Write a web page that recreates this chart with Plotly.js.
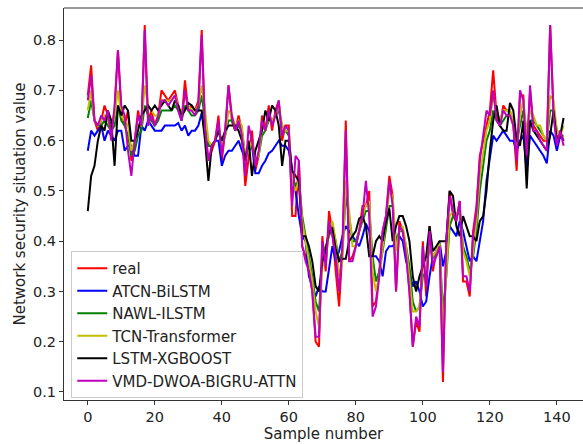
<!DOCTYPE html>
<html><head><meta charset="utf-8">
<script src="https://cdn.plot.ly/plotly-3.0.1.min.js"></script>
<style>html,body{margin:0;padding:0;background:#fff}#chart{width:583px;height:444px}</style>
</head><body><div id="chart"></div>
<script>
const seriesNames = ["real","ATCN-BiLSTM","NAWL-ILSTM","TCN-Transformer","LSTM-XGBOOST","VMD-DWOA-BIGRU-ATTN"];
const seriesColors = ["#ff0000","#0000ff","#008000","#bfbf00","#000000","#bf00bf"];

const real = [0.69,0.75,0.64,0.62,0.64,0.67,0.65,0.62,0.66,0.78,0.66,0.63,0.66,0.56,0.60,0.66,0.62,0.83,0.64,0.66,
0.63,0.65,0.70,0.69,0.68,0.69,0.70,0.67,0.64,0.72,0.66,0.67,0.66,0.68,0.82,0.63,0.56,0.58,0.60,0.65,
0.56,0.62,0.71,0.64,0.62,0.65,0.62,0.51,0.57,0.62,0.54,0.57,0.65,0.62,0.67,0.62,0.66,0.68,0.60,0.63,
0.63,0.45,0.45,0.56,0.39,0.37,0.34,0.30,0.20,0.19,0.41,0.34,0.46,0.42,0.34,0.27,0.38,0.64,0.36,0.37,
0.39,0.42,0.47,0.47,0.50,0.27,0.28,0.34,0.42,0.45,0.53,0.49,0.30,0.44,0.42,0.38,0.30,0.19,0.24,0.22,
0.40,0.29,0.43,0.34,0.38,0.40,0.12,0.40,0.50,0.45,0.44,0.48,0.32,0.32,0.29,0.42,0.47,0.57,0.60,0.63,
0.66,0.74,0.65,0.63,0.67,0.66,0.66,0.63,0.54,0.69,0.69,0.56,0.70,0.63,0.62,0.61,0.60,0.60,0.83,0.66,
0.60,0.62,0.60];

const atcn = [0.58,0.62,0.61,0.62,0.63,0.60,0.62,0.61,0.60,0.62,0.62,0.58,0.59,0.59,0.57,0.57,0.63,0.62,0.64,0.63,
0.62,0.62,0.62,0.63,0.63,0.63,0.63,0.635,0.62,0.63,0.61,0.62,0.62,0.63,0.655,0.61,0.59,0.59,0.60,0.60,
0.55,0.57,0.58,0.58,0.59,0.60,0.58,0.565,0.58,0.59,0.535,0.535,0.55,0.56,0.575,0.58,0.59,0.60,0.59,0.59,
0.58,0.54,0.50,0.45,0.41,0.40,0.33,0.31,0.29,0.31,0.30,0.30,0.35,0.39,0.36,0.38,0.41,0.43,0.42,0.41,
0.40,0.39,0.41,0.435,0.42,0.37,0.37,0.36,0.33,0.38,0.39,0.39,0.40,0.41,0.40,0.36,0.34,0.31,0.32,0.30,
0.27,0.28,0.33,0.37,0.38,0.40,0.35,0.38,0.43,0.42,0.41,0.44,0.42,0.39,0.36,0.37,0.36,0.40,0.44,0.52,
0.57,0.61,0.60,0.61,0.62,0.61,0.60,0.60,0.58,0.60,0.61,0.54,0.61,0.60,0.59,0.58,0.57,0.555,0.62,0.61,
0.58,0.61,0.60];

const nawl = [0.645,0.68,0.64,0.63,0.63,0.64,0.63,0.62,0.63,0.67,0.64,0.63,0.61,0.57,0.58,0.61,0.62,0.67,0.65,0.64,
0.63,0.64,0.66,0.66,0.66,0.66,0.67,0.66,0.64,0.67,0.66,0.65,0.65,0.66,0.69,0.64,0.59,0.59,0.60,0.62,
0.59,0.61,0.64,0.64,0.62,0.63,0.62,0.57,0.58,0.59,0.56,0.57,0.61,0.62,0.64,0.64,0.65,0.66,0.63,0.62,
0.61,0.53,0.51,0.52,0.45,0.41,0.37,0.33,0.28,0.26,0.36,0.39,0.41,0.43,0.40,0.36,0.38,0.49,0.45,0.40,
0.40,0.42,0.44,0.46,0.46,0.37,0.32,0.34,0.38,0.43,0.47,0.47,0.40,0.42,0.42,0.39,0.35,0.28,0.26,0.27,
0.33,0.34,0.39,0.37,0.37,0.39,0.26,0.33,0.43,0.45,0.45,0.46,0.39,0.37,0.34,0.37,0.42,0.50,0.55,0.60,
0.62,0.66,0.64,0.63,0.64,0.65,0.65,0.64,0.60,0.63,0.66,0.62,0.64,0.64,0.63,0.62,0.61,0.60,0.66,0.66,
0.62,0.61,0.61];

const tcn = [0.66,0.70,0.64,0.63,0.64,0.65,0.64,0.62,0.65,0.70,0.65,0.64,0.63,0.58,0.60,0.63,0.63,0.71,0.67,0.66,
0.65,0.65,0.68,0.68,0.68,0.68,0.69,0.67,0.65,0.69,0.67,0.66,0.66,0.67,0.71,0.66,0.60,0.59,0.60,0.63,
0.59,0.61,0.66,0.65,0.63,0.64,0.63,0.56,0.58,0.60,0.56,0.57,0.63,0.62,0.65,0.64,0.65,0.67,0.63,0.62,
0.62,0.52,0.50,0.52,0.44,0.40,0.36,0.32,0.26,0.23,0.35,0.36,0.42,0.44,0.40,0.33,0.36,0.52,0.46,0.39,
0.39,0.42,0.45,0.47,0.48,0.34,0.30,0.33,0.39,0.44,0.50,0.49,0.38,0.42,0.43,0.39,0.33,0.26,0.26,0.27,
0.35,0.34,0.40,0.37,0.38,0.40,0.22,0.34,0.45,0.46,0.45,0.47,0.38,0.36,0.33,0.38,0.44,0.53,0.58,0.62,
0.64,0.69,0.66,0.64,0.66,0.66,0.66,0.64,0.59,0.65,0.68,0.61,0.66,0.65,0.63,0.63,0.61,0.60,0.69,0.68,
0.62,0.61,0.63];

const lstmxgb = [0.46,0.53,0.55,0.60,0.63,0.62,0.66,0.64,0.55,0.67,0.65,0.67,0.66,0.60,0.60,0.62,0.65,0.66,0.67,0.66,
0.67,0.66,0.67,0.68,0.67,0.66,0.68,0.67,0.65,0.66,0.675,0.67,0.66,0.66,0.66,0.60,0.52,0.59,0.60,0.62,
0.60,0.62,0.63,0.63,0.63,0.62,0.60,0.56,0.60,0.53,0.58,0.60,0.62,0.66,0.64,0.67,0.66,0.63,0.55,0.60,
0.60,0.54,0.53,0.52,0.41,0.41,0.39,0.36,0.31,0.30,0.36,0.38,0.42,0.425,0.385,0.36,0.365,0.365,0.40,0.41,
0.42,0.445,0.45,0.43,0.37,0.37,0.40,0.41,0.40,0.44,0.465,0.40,0.43,0.45,0.45,0.43,0.40,0.33,0.30,0.33,
0.35,0.37,0.43,0.38,0.39,0.40,0.40,0.40,0.50,0.49,0.43,0.41,0.45,0.43,0.41,0.41,0.40,0.44,0.45,0.50,
0.58,0.64,0.67,0.63,0.62,0.62,0.675,0.66,0.60,0.59,0.64,0.505,0.64,0.62,0.61,0.60,0.59,0.58,0.61,0.66,
0.60,0.61,0.645];

const vmd = [0.68,0.73,0.64,0.63,0.65,0.64,0.66,0.60,0.67,0.78,0.67,0.65,0.58,0.53,0.60,0.65,0.63,0.82,0.63,0.65,
0.63,0.65,0.68,0.68,0.67,0.68,0.69,0.66,0.64,0.70,0.66,0.66,0.65,0.67,0.81,0.62,0.56,0.59,0.60,0.64,
0.57,0.62,0.71,0.65,0.62,0.64,0.61,0.53,0.63,0.60,0.55,0.58,0.64,0.62,0.66,0.63,0.65,0.68,0.61,0.63,
0.62,0.47,0.57,0.56,0.39,0.36,0.34,0.30,0.21,0.21,0.40,0.35,0.44,0.41,0.37,0.30,0.39,0.62,0.36,0.36,
0.39,0.42,0.45,0.52,0.45,0.25,0.27,0.33,0.42,0.45,0.52,0.47,0.30,0.43,0.42,0.37,0.30,0.19,0.25,0.23,
0.39,0.31,0.42,0.35,0.37,0.39,0.14,0.40,0.49,0.46,0.44,0.48,0.33,0.33,0.30,0.41,0.46,0.56,0.61,0.66,
0.65,0.70,0.64,0.63,0.66,0.65,0.65,0.63,0.56,0.70,0.68,0.57,0.71,0.62,0.62,0.60,0.59,0.58,0.83,0.65,
0.59,0.62,0.59];

const allSeries = [real, atcn, nawl, tcn, lstmxgb, vmd];
const xTickVals = [0,20,40,60,80,100,120,140];
const yTickVals = [0.1,0.2,0.3,0.4,0.5,0.6,0.7,0.8];

const traces = allSeries.map((ys, k) => ({
  type: 'scatter', mode: 'lines',
  x: ys.map((_, i) => i), y: ys,
  name: seriesNames[k], legendgroup: 'g' + k,
  line: {color: seriesColors[k], width: 2}
}));

const tickFont = {family: 'DejaVu Sans, sans-serif', size: 14.5, color: '#222'};
const titleFont = {family: 'DejaVu Sans, sans-serif', size: 15, color: '#222'};
const layout = {
  width: 583, height: 444,
  margin: {l: 64, r: 0, t: 8, b: 44},
  paper_bgcolor: '#fff', plot_bgcolor: '#fff',
  showlegend: true,
  font: tickFont,
  xaxis: {
    range: [-7.1, 147.8], tickvals: xTickVals, ticktext: xTickVals.map(String),
    showgrid: false, zeroline: false, showline: true, linecolor: '#333', linewidth: 1,
    ticks: 'outside', ticklen: 4, tickcolor: '#333', tickfont: tickFont,
    title: {text: 'Sample number', font: titleFont, standoff: 2}
  },
  yaxis: {
    range: [0.084, 0.864], tickvals: yTickVals, ticktext: yTickVals.map(v => v.toFixed(1)),
    showgrid: false, zeroline: false, showline: true, linecolor: '#333', linewidth: 1,
    ticks: 'outside', ticklen: 4, tickcolor: '#333', tickfont: tickFont,
    title: {text: 'Network security situation value', font: titleFont, standoff: 3}
  },
  shapes: [{type: 'line', xref: 'paper', yref: 'paper', x0: 0, x1: 1.02, y0: 1, y1: 1,
            line: {color: '#333', width: 1}}],
  legend: {
    x: 0.014, y: 0.005, xanchor: 'left', yanchor: 'bottom',
    bgcolor: 'rgba(255,255,255,0.8)', bordercolor: '#cccccc', borderwidth: 1,
    font: {family: 'DejaVu Sans, sans-serif', size: 15, color: '#222'},
    traceorder: 'grouped', tracegroupgap: 0
  }
};

Plotly.newPlot('chart', traces, layout, {displayModeBar: false, staticPlot: true});
</script>
</body></html>
